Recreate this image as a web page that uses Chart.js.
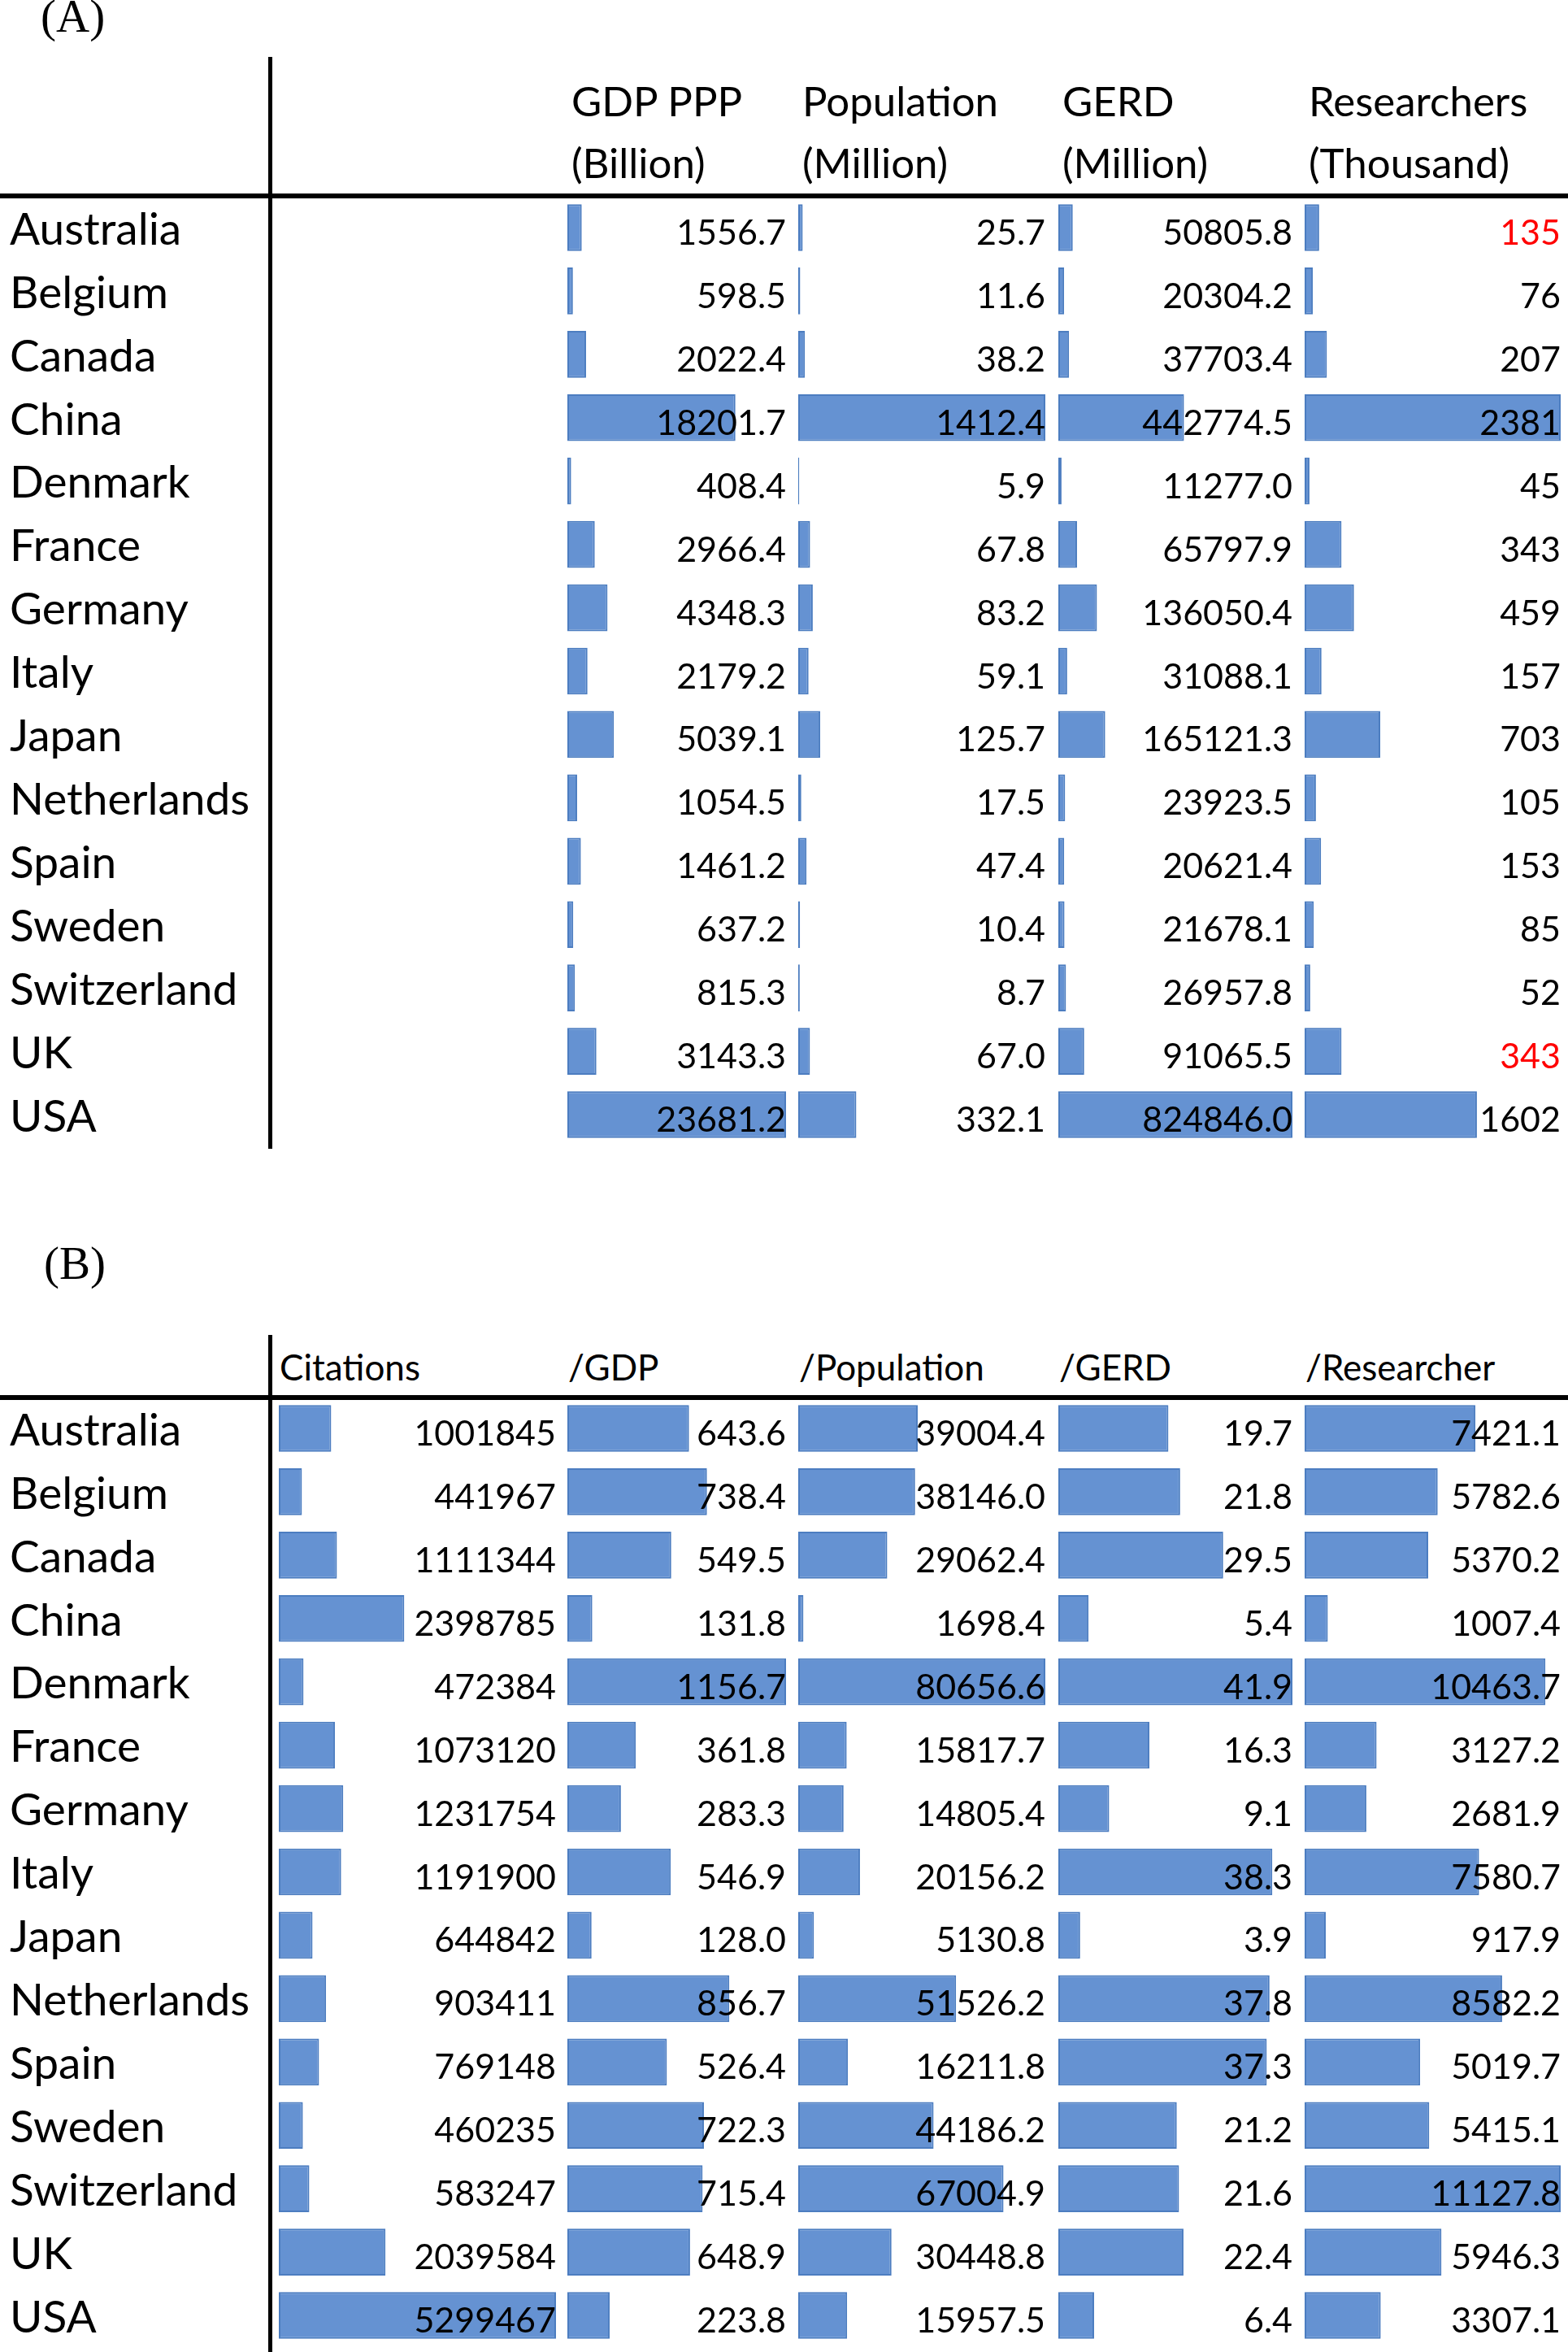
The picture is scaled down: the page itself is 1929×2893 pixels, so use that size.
<!DOCTYPE html>
<html><head><meta charset="utf-8">
<script src="https://cdn.jsdelivr.net/npm/chart.js@4.4.1/dist/chart.umd.min.js"></script>
<style>
html,body{margin:0;padding:0;background:#fff;}
body{width:1929px;height:2893px;position:relative;overflow:hidden;}
.ttl{position:absolute;font-family:"Liberation Serif","Times New Roman",serif;font-size:57px;line-height:1;color:#000;white-space:nowrap;}
.hdr{position:absolute;font-family:Lato,sans-serif;line-height:1;color:#000;white-space:nowrap;}
.ln{position:absolute;background:#000;}
canvas{position:absolute;}
</style></head><body>
<script>
// ---------------- data ----------------
const countries = ["Australia","Belgium","Canada","China","Denmark","France","Germany","Italy","Japan","Netherlands","Spain","Sweden","Switzerland","UK","USA"];

const gdpPPP      = [1556.7, 598.5, 2022.4, 18201.7, 408.4, 2966.4, 4348.3, 2179.2, 5039.1, 1054.5, 1461.2, 637.2, 815.3, 3143.3, 23681.2];
const population  = [25.7, 11.6, 38.2, 1412.4, 5.9, 67.8, 83.2, 59.1, 125.7, 17.5, 47.4, 10.4, 8.7, 67.0, 332.1];
const gerd        = [50805.8, 20304.2, 37703.4, 442774.5, 11277.0, 65797.9, 136050.4, 31088.1, 165121.3, 23923.5, 20621.4, 21678.1, 26957.8, 91065.5, 824846.0];
const researchers = [135, 76, 207, 2381, 45, 343, 459, 157, 703, 105, 153, 85, 52, 343, 1602];

const citations        = [1001845, 441967, 1111344, 2398785, 472384, 1073120, 1231754, 1191900, 644842, 903411, 769148, 460235, 583247, 2039584, 5299467];
const citPerGDP        = [643.6, 738.4, 549.5, 131.8, 1156.7, 361.8, 283.3, 546.9, 128.0, 856.7, 526.4, 722.3, 715.4, 648.9, 223.8];
const citPerPopulation = [39004.4, 38146.0, 29062.4, 1698.4, 80656.6, 15817.7, 14805.4, 20156.2, 5130.8, 51526.2, 16211.8, 44186.2, 67004.9, 30448.8, 15957.5];
const citPerGERD       = [19.7, 21.8, 29.5, 5.4, 41.9, 16.3, 9.1, 38.3, 3.9, 37.8, 37.3, 21.2, 21.6, 22.4, 6.4];
const citPerResearcher = [7421.1, 5782.6, 5370.2, 1007.4, 10463.7, 3127.2, 2681.9, 7580.7, 917.9, 8582.2, 5019.7, 5415.1, 11127.8, 5946.3, 3307.1];

const headersA = [["GDP PPP","(Billion)"],["Population","(Million)"],["GERD","(Million)"],["Researchers","(Thousand)"]];
const headersB = ["Citations","/GDP","/Population","/GERD","/Researcher"];
const redResearcherCountries = ["Australia","UK"];

// ---------------- styling / layout ----------------
const BAR = '#6592D2', BAR_EDGE = '#4C7DC0';
const ROW_H = 77.9;
const VAL_FONT = 43, LABEL_FONT = 55;
const colsA = [[698,967],[982,1286],[1302,1590],[1605,1920]];
const colsB = [[343,684],[698,967],[982,1286],[1302,1590],[1605,1920]];
const TOP_A = 240.5, TOP_B = 1717.5;

function addDiv(cls, css, text){
  const d = document.createElement('div');
  d.className = cls; d.style.cssText = css;
  if (text !== undefined) d.textContent = text;
  document.body.appendChild(d);
  return d;
}

function valuePlugin(decimals, colors){
  return {
    id:'vals',
    afterDatasetsDraw(chart){
      const ctx = chart.ctx, meta = chart.getDatasetMeta(0), ds = chart.data.datasets[0];
      ctx.save();
      ctx.font = VAL_FONT + 'px Lato';
      ctx.textAlign = 'right';
      ctx.textBaseline = 'alphabetic';
      meta.data.forEach((bar, i) => {
        ctx.fillStyle = colors ? colors[i] : '#000';
        ctx.fillText(ds.data[i].toFixed(decimals), chart.chartArea.right, bar.y + 21);
      });
      ctx.restore();
    }
  };
}

function makeColumn(left, right, top, values, decimals, colors, withLabels){
  const cLeft = withLabels ? 0 : left;
  const w = Math.round(right - cLeft), h = Math.round(countries.length * ROW_H);
  const cv = document.createElement('canvas');
  cv.width = w; cv.height = h;
  cv.style.cssText = `left:${cLeft}px;top:${top}px;width:${w}px;height:${h}px;`;
  document.body.appendChild(cv);
  const padL = 12;
  new Chart(cv, {
    type:'bar',
    data:{labels:countries, datasets:[{data:values, backgroundColor:BAR, borderColor:BAR_EDGE, borderWidth:2, borderSkipped:false, barPercentage:0.74, categoryPercentage:1}]},
    options:{
      indexAxis:'y', responsive:false, animation:false, devicePixelRatio:1, events:[],
      layout:{padding:{left: withLabels ? padL : 0, right:0, top:0, bottom:0}},
      plugins:{legend:{display:false}, tooltip:{enabled:false}},
      scales:{
        x:{display:false, min:0, max:Math.max(...values)},
        y:{display:!!withLabels, grid:{display:false}, border:{display:false},
           ticks:{crossAlign:'far', padding:0, labelOffset:3, color:'#000', font:{family:'Lato', size:LABEL_FONT}},
           afterFit:(s)=>{ if (withLabels) { s.width = left - padL; s.paddingTop = 0; s.paddingBottom = 0; } }
        }
      }
    },
    plugins:[valuePlugin(decimals, colors)]
  });
}

// titles
addDiv('ttl', 'left:50px;top:-9px;', '(A)');
addDiv('ttl', 'left:54px;top:1525px;', '(B)');

// lines
addDiv('ln', 'left:330px;top:70px;width:5px;height:1343px;');
addDiv('ln', 'left:0;top:238px;width:1929px;height:6px;');
addDiv('ln', 'left:330px;top:1642px;width:5px;height:1251px;');
addDiv('ln', 'left:0;top:1716px;width:1929px;height:6px;');

// headers A
const HA = 51;
headersA.forEach((pair, i) => {
  const x = colsA[i][0] + 5;
  addDiv('hdr', `left:${x}px;top:${143 - 0.887*HA}px;font-size:${HA}px;`, pair[0]);
  addDiv('hdr', `left:${x}px;top:${219 - 0.887*HA}px;font-size:${HA}px;`, pair[1]);
});
// headers B
const HB = 44;
headersB.forEach((t, i) => {
  const x = colsB[i][0] + 1;
  addDiv('hdr', `left:${x}px;top:${1698 - 0.887*HB}px;font-size:${HB}px;`, t);
});

// panel A
const resColors = countries.map(c => redResearcherCountries.includes(c) ? '#FF0000' : '#000');
makeColumn(colsA[0][0], colsA[0][1], TOP_A, gdpPPP, 1, null, true);
makeColumn(colsA[1][0], colsA[1][1], TOP_A, population, 1, null, false);
makeColumn(colsA[2][0], colsA[2][1], TOP_A, gerd, 1, null, false);
makeColumn(colsA[3][0], colsA[3][1], TOP_A, researchers, 0, resColors, false);

// panel B
makeColumn(colsB[0][0], colsB[0][1], TOP_B, citations, 0, null, true);
makeColumn(colsB[1][0], colsB[1][1], TOP_B, citPerGDP, 1, null, false);
makeColumn(colsB[2][0], colsB[2][1], TOP_B, citPerPopulation, 1, null, false);
makeColumn(colsB[3][0], colsB[3][1], TOP_B, citPerGERD, 1, null, false);
makeColumn(colsB[4][0], colsB[4][1], TOP_B, citPerResearcher, 1, null, false);
</script>
</body></html>
